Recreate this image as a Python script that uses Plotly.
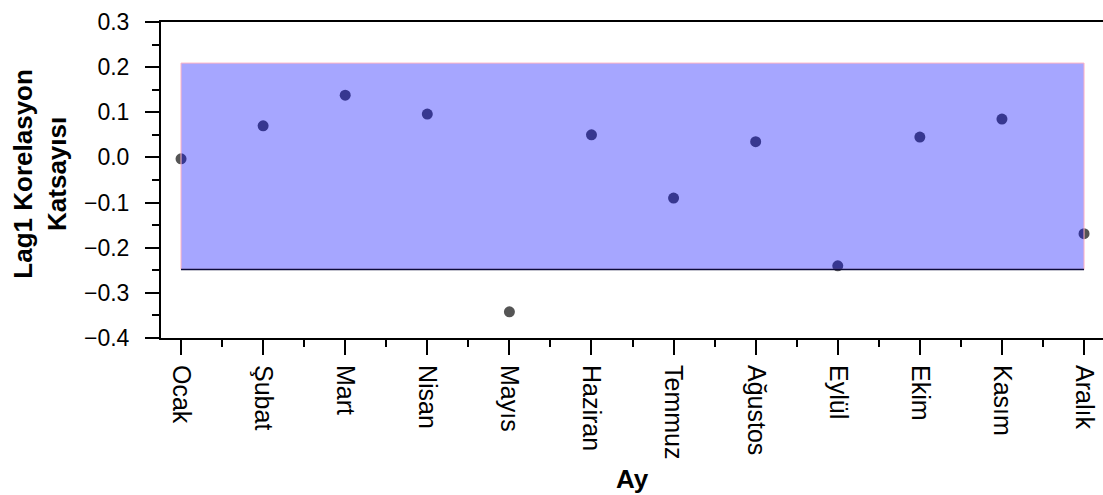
import plotly.graph_objects as go

months = ["Ocak", "Şubat", "Mart", "Nisan", "Mayıs", "Haziran",
          "Temmuz", "Ağustos", "Eylül", "Ekim", "Kasım", "Aralık"]
lag1 = [-0.003, 0.070, 0.138, 0.096, -0.342, 0.050,
        -0.090, 0.035, -0.240, 0.045, 0.085, -0.169]
band_upper = 0.209
band_lower = -0.248
y_ticks = [-0.4, -0.3, -0.2, -0.1, 0.0, 0.1, 0.2, 0.3]
y_ticklabels = ["\u22120.4", "\u22120.3", "\u22120.2", "\u22120.1", "0.0", "0.1", "0.2", "0.3"]

idx = list(range(len(months)))
FONT = "Liberation Sans, Arial, sans-serif"

fig = go.Figure()
fig.add_trace(go.Scatter(
    x=idx, y=lag1, mode="markers",
    marker=dict(color="#555555", size=11, line=dict(width=0)),
    showlegend=False, cliponaxis=False,
))
# confidence band (drawn above points, semi-transparent)
x0, x1 = idx[0], idx[-1]
fig.add_trace(go.Scatter(
    x=[x0, x1, x1, x0, x0],
    y=[band_upper, band_upper, band_lower, band_lower, band_upper],
    mode="lines", fill="toself", fillcolor="rgba(0,0,255,0.35)",
    line=dict(color="#ffb3c3", width=1), showlegend=False, hoverinfo="skip",
))
fig.add_trace(go.Scatter(
    x=[x0, x1], y=[band_lower, band_lower], mode="lines",
    line=dict(color="#0b0b3a", width=1.5), showlegend=False, hoverinfo="skip",
))

fig.update_layout(
    width=1103, height=495,
    margin=dict(l=161, r=0, t=22, b=157),
    plot_bgcolor="white", paper_bgcolor="white",
    font=dict(family=FONT, color="black"),
    xaxis=dict(
        range=[-0.244, 11.231],
        tickmode="array", tickvals=idx, ticktext=months,
        tickangle=90, tickfont=dict(size=25, family=FONT),
        ticks="outside", ticklen=15, tickwidth=2, tickcolor="black",
        showline=True, linecolor="black", linewidth=2, mirror=True,
        showgrid=False, zeroline=False,
        ticklabelstandoff=5,
        minor=dict(tickmode="linear", tick0=0.5, dtick=1, ticks="outside",
                   ticklen=7, tickwidth=2, tickcolor="black", showgrid=False),
    ),
    yaxis=dict(
        range=[-0.4, 0.3],
        tickmode="array", tickvals=y_ticks, ticktext=y_ticklabels,
        tickfont=dict(size=23, family=FONT),
        ticks="outside", ticklen=14, tickwidth=2, tickcolor="black",
        showline=True, linecolor="black", linewidth=2, mirror=False,
        showgrid=False, zeroline=False,
        ticklabelstandoff=11,
        minor=dict(tickmode="linear", tick0=-0.35, dtick=0.1, ticks="outside",
                   ticklen=7, tickwidth=2, tickcolor="black", showgrid=False),
    ),
    annotations=[
        dict(text="<b>Lag1 Korelasyon<br>Katsayısı</b>", textangle=-90,
             xref="paper", yref="paper", x=-0.1285, y=0.52,
             xanchor="center", yanchor="middle", showarrow=False,
             font=dict(size=26, family=FONT, color="black")),
        dict(text="<b>Ay</b>", xref="paper", yref="paper", x=0.5, y=-0.445,
             xanchor="center", yanchor="middle", showarrow=False,
             font=dict(size=26, family=FONT, color="black")),
    ],
)

fig.write_html("out.html", config={"displayModeBar": False},
               post_script="document.body.style.margin='0';document.body.style.overflow='hidden';")
